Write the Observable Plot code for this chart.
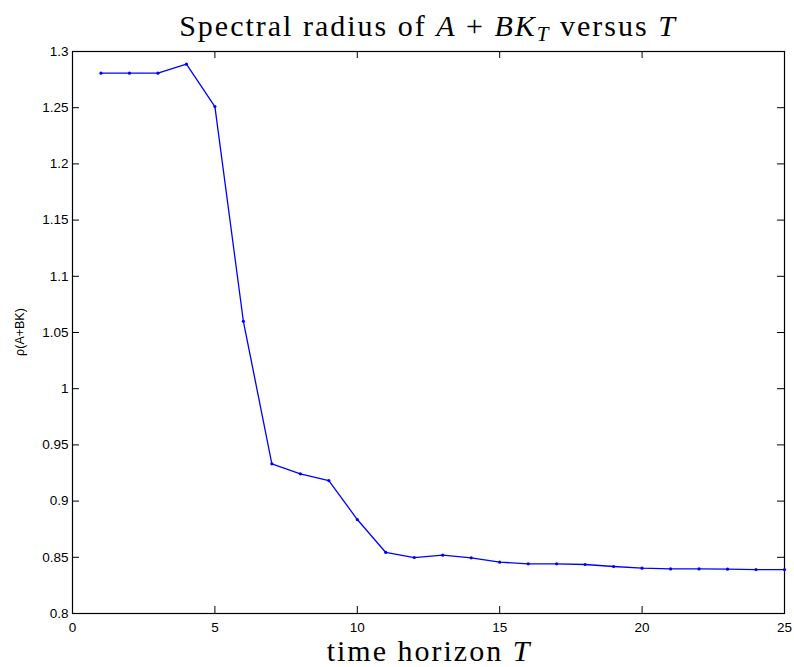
<!DOCTYPE html>
<html><head><meta charset="utf-8">
<script src="https://cdn.jsdelivr.net/npm/d3@7"></script>
<script src="https://cdn.jsdelivr.net/npm/@observablehq/plot@0.6"></script>
<style>body{margin:0;background:#fff}</style>
</head><body><div id="chart"></div>
<script>
const horizonT = [1, 2, 3, 4, 5, 6, 7, 8, 9, 10, 11, 12, 13, 14, 15, 16, 17, 18, 19, 20, 21, 22, 23, 24, 25];
const rho = [1.2807, 1.2807, 1.2807, 1.2887, 1.2510, 1.0600, 0.9332, 0.9243, 0.9183, 0.8836, 0.8543, 0.8498, 0.8519, 0.8495, 0.8457, 0.8442, 0.8442, 0.8436, 0.8418, 0.8403, 0.8397, 0.8397, 0.8394, 0.8391, 0.8391];
const xTicks = [0, 5, 10, 15, 20, 25];
const yTicks = [0.8, 0.85, 0.9, 0.95, 1, 1.05, 1.1, 1.15, 1.2, 1.25, 1.3];
const titleText = "Spectral radius of ";
const xLabelText = "time horizon ";
const yLabelText = "ρ(A+BK)";

const data = horizonT.map((t, i) => ({T: t, rho: rho[i]}));

const W = 794, H = 667, mT = 51, mB = 54, mL = 72, mR = 10;
const tickLen = 7;
const innerW = W - mL - mR, innerH = H - mT - mB;

const plot = Plot.plot({
  width: W, height: H,
  marginTop: mT, marginBottom: mB, marginLeft: mL, marginRight: mR,
  style: {fontFamily: "'Liberation Sans', Arial, sans-serif", fontSize: "13.5px", background: "white", color: "black"},
  x: {domain: [0, 25]},
  y: {domain: [0.8, 1.3]},
  marks: [
    Plot.axisX(xTicks, {anchor: "bottom", tickSize: 0, tickPadding: 9, tickFormat: d => String(d), label: null}),
    Plot.axisY(yTicks, {anchor: "left", tickSize: 0, tickPadding: 4, tickFormat: d => String(d), label: null}),
    Plot.tickX(xTicks, {x: d => d, stroke: "black", strokeWidth: 1, insetTop: innerH - tickLen}),
    Plot.tickX(xTicks, {x: d => d, stroke: "black", strokeWidth: 1, insetBottom: innerH - tickLen}),
    Plot.tickY(yTicks, {y: d => d, stroke: "black", strokeWidth: 1, insetRight: innerW - tickLen}),
    Plot.tickY(yTicks, {y: d => d, stroke: "black", strokeWidth: 1, insetLeft: innerW - tickLen}),
    Plot.frame({stroke: "black", strokeWidth: 1.2}),
    Plot.line(data, {x: "T", y: "rho", stroke: "#0000ff", strokeWidth: 1.3}),
    Plot.dot(data, {x: "T", y: "rho", fill: "#0000ff", r: 1.6})
  ]
});
document.getElementById("chart").appendChild(plot);

const svg = d3.select(plot);
const serif = "'Liberation Serif', 'Times New Roman', serif";
const t = svg.append("text").attr("x", 428).attr("y", 36).attr("text-anchor", "middle")
  .attr("font-family", serif).attr("font-size", 30).attr("letter-spacing", "2px").attr("fill", "black");
t.append("tspan").text(titleText);
t.append("tspan").attr("font-style", "italic").text("A");
t.append("tspan").text(" + ");
t.append("tspan").attr("font-style", "italic").text("BK");
t.append("tspan").attr("font-style", "italic").attr("font-size", 21).attr("dy", 5).text("T");
t.append("tspan").attr("dy", -5).text(" versus ");
t.append("tspan").attr("font-style", "italic").text("T");

const xl = svg.append("text").attr("x", 429).attr("y", 661).attr("text-anchor", "middle")
  .attr("font-family", serif).attr("font-size", 30).attr("letter-spacing", "2px").attr("fill", "black");
xl.append("tspan").text(xLabelText);
xl.append("tspan").attr("font-style", "italic").text("T");

svg.append("text").attr("transform", "translate(21,332) rotate(-90)")
  .attr("text-anchor", "middle").attr("dominant-baseline", "middle")
  .attr("font-family", "'Liberation Sans', Arial, sans-serif").attr("font-size", 12.5)
  .attr("fill", "black").text(yLabelText);
</script>
</body></html>
